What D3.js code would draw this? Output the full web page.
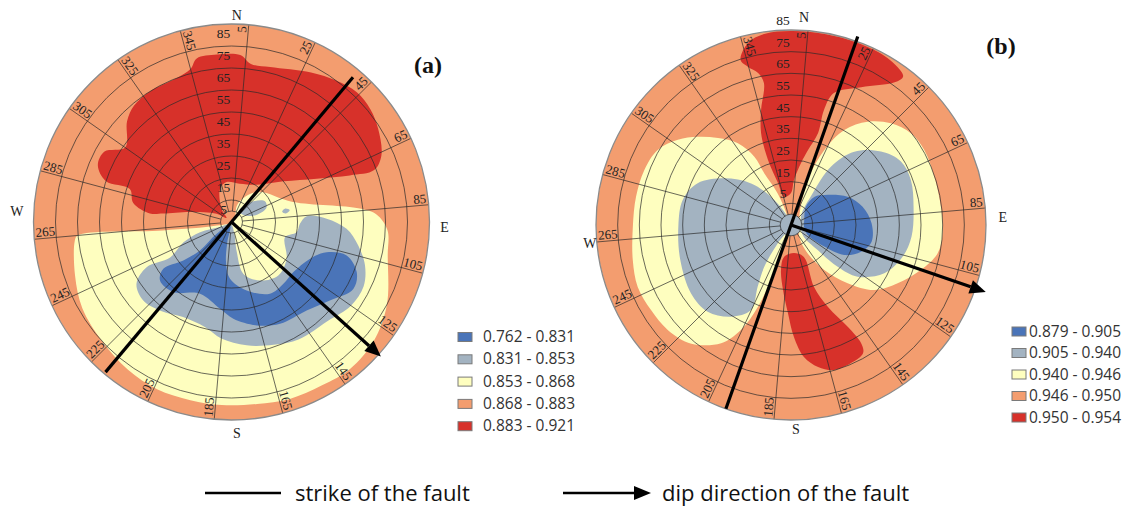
<!DOCTYPE html>
<html>
<head>
<meta charset="utf-8">
<script src="https://cdn.jsdelivr.net/npm/d3@7"></script>
<style>
  body { margin: 0; background: #fff; }
  svg { display: block; }
</style>
</head>
<body>
<svg id="chart" width="1137" height="513"></svg>
<script>
// ---- grid / tick labels ----
const ringDips = [10, 20, 30, 40, 50, 60, 70, 80];
const spokeAz = [5, 25, 45, 65, 85, 105, 125, 145, 165, 185, 205, 225, 245, 265, 285, 305, 325, 345];
const dipLabels = [5, 15, 25, 35, 45, 55, 65, 75, 85];
const cardinals = ['N', 'E', 'S', 'W'];

// ---- classes (legend) ----
const classColors = ['#4a74b8', '#a3b3c1', '#fefebf', '#f39d6f', '#d7312a'];
const legendA = ['0.762 - 0.831', '0.831 - 0.853', '0.853 - 0.868', '0.868 - 0.883', '0.883 - 0.921'];
const legendB = ['0.879 - 0.905', '0.905 - 0.940', '0.940 - 0.946', '0.946 - 0.950', '0.950 - 0.954'];

// ---- fault (degrees azimuth) ----
const faultStrike = [40, 19.5];
const dipDirection = [132, 109];

// ---- contour boundaries, [azimuth, dip] ----
// plot (a)
const yellowA = [[60, 1], [19, 8.7], [40, 17.8], [72, 29.3], [84, 58.6], [87, 66], [93, 71], [102, 72.6],
  [118, 80], [130, 84.3], [141, 85.8], [151, 84.9], [162, 84.7], [172, 83.5], [183, 83.3], [193, 83.1],
  [204, 83.2], [215, 82], [227, 80], [240, 78.3], [251, 75.2], [263, 71.8], [265, 70.2], [263, 31.4], [256, 6.8]];
const grayA = [[246, 5.7], [252, 15], [247, 23.7], [240, 32.2], [242, 43.7], [237, 51.5], [228.5, 53.7],
  [218, 51.5], [207, 48.5], [194, 49.3], [185, 53.2], [173, 56.5], [161, 59], [150, 61.5], [136, 62.7],
  [125, 66.3], [116, 66.8], [108, 63.8], [100.5, 58.6], [93.4, 52.4], [88, 43.3], [85.6, 34.3], [91.5, 31.1],
  [99, 30], [106, 25.3], [123.7, 30.1], [138.8, 32.3], [154, 29.6], [167, 24.2], [170, 13.9], [166, 4.8], [200, 1]];
const grayTailA = [[33, 6], [45, 12.9], [58, 17.9], [68, 17.1], [74, 10.3], [55, 6]];
const grayDotA = [[76, 25], [78.5, 27], [81, 25], [78.5, 23.5]];
const blueA = [[203, 1.7], [191.7, 9.4], [187.8, 18.4], [181.5, 25.8], [167.5, 31.9], [151.8, 37], [140, 36.7],
  [129, 36.2], [115, 39.4], [107.6, 45.4], [106.2, 54.5], [111.8, 61.3], [118.8, 63.2], [128.6, 57.2],
  [139.7, 52.8], [154.5, 51.3], [166.3, 48.4], [178.9, 44], [187.5, 39.8], [203.7, 35.6], [219.7, 41.4],
  [230.7, 42], [235.5, 37.6], [231.4, 28], [228, 19.3], [231.4, 8.6]];
const redA = [[276, 37.3], [281, 45.5], [288, 48.6], [288, 60], [293, 66], [299, 66], [305, 59], [314, 66],
  [320, 69], [328, 70], [339, 70], [345, 72], [348, 76], [355, 76.4], [3, 76], [7, 72.4], [14, 72.6], [28, 77],
  [36.5, 80], [44, 82], [51, 81.3], [57.5, 79], [66, 74.6], [70, 69], [68.5, 57.8], [63, 43.4], [52, 30],
  [34, 20.4], [12, 17.8], [353, 18.3], [341, 16], [323, 7.6], [309, 2.9], [299, 7.8], [283.5, 19.5], [277, 31.3]];

// plot (b)
const yellowWestB = [[335, 3], [337, 15.9], [332.7, 26.8], [331.8, 35.8], [327, 45], [320, 52.4], [313.4, 59.3],
  [307, 65.4], [299.4, 70.6], [290.6, 72.3], [280.4, 72.7], [269.4, 73], [257.5, 74.8], [248, 76.3],
  [238.7, 75.6], [229.6, 74.7], [220, 71.5], [210.6, 63.4], [205.5, 53.7], [202, 40.7], [200, 27],
  [198.4, 12.2], [191, 3.9]];
const yellowEastB = [[45, 5.4], [20.3, 22.1], [24, 37.9], [29.3, 50.3], [36.6, 59.4], [44.5, 65.8], [52.6, 69.7],
  [60.6, 70.6], [71.4, 69.8], [83, 69.7], [93, 70.1], [101, 68.9], [109, 63.5], [118.7, 56.1], [128, 48.8],
  [135.8, 37.5], [143.5, 25.8], [149.5, 15.2], [144.5, 6.6]];
const grayWestB = [[333, 2], [326.3, 13.9], [316.2, 26.6], [305, 37.6], [294.1, 47.2], [283, 51.3], [269.2, 52],
  [252.4, 53.6], [235.6, 55.9], [223.9, 55.5], [213.2, 50.6], [205.2, 43.4], [208.4, 32.3], [212.6, 22.8],
  [216, 10.5], [213.7, 2.8]];
const grayEastB = [[50, 6], [34.4, 17.7], [34.4, 32.6], [40.8, 44.7], [50.8, 53.6], [60, 58.6], [69.4, 59.1],
  [81.5, 57.2], [95.5, 55.9], [105.8, 53.6], [117.4, 48.5], [127.8, 38.9], [131.8, 28.9], [133.2, 16.9], [130.6, 7.1]];
const grayCoreB = 5;
const blueB = [[70, 6.5], [39, 10.9], [40, 17], [48, 20.7], [63.4, 29.2], [75.7, 34.1], [88.8, 37.2], [101.7, 38],
  [110.9, 34.6], [119.4, 28.2], [123, 18.3], [121, 9], [95, 6]];
const redNorthB = [[343, 79.6], [346.7, 86.3], [352, 89], [0, 89.5], [10, 89.5], [20, 89.5], [30, 89], [37, 86],
  [36, 81.4], [27, 71.4], [18, 64], [16, 55.2], [16.4, 44.3], [12.8, 35.5], [9.2, 29], [3.8, 20.8], [0, 14.8],
  [346, 13.3], [342.8, 20.3], [340.5, 31.8], [342, 44.7], [345.4, 54.8], [349.2, 66.7], [347.8, 71.8], [344.8, 75.6]];
const redSouthB = [[174, 13], [158, 15.9], [159.6, 30.5], [155.7, 41.5], [150.8, 53.9], [149.3, 63.3],
  [150.6, 67.8], [156.5, 69.5], [163.5, 69.8], [169.2, 66.7], [174.4, 61.2], [178.5, 51.7], [182, 40.6],
  [187, 30.2], [192.5, 21.3], [192.3, 15.1]];

const svg = d3.select('#chart');
const rad = d => d * Math.PI / 180;

function drawPlot(cfg) {
  const g = svg.append('g').attr('transform', `translate(${cfg.cx},${cfg.cy})`);
  const r = d3.scaleLinear().domain([0, 90]).range([0, cfg.R]);
  const pos = (az, rr) => [rr * Math.sin(rad(az)), -rr * Math.cos(rad(az))];

  const shape = d3.lineRadial()
    .angle(d => rad(d[0]))
    .radius(d => r(d[1]))
    .curve(d3.curveCatmullRomClosed.alpha(0.5));

  g.append('clipPath').attr('id', 'clip-' + cfg.id)
    .append('circle').attr('r', cfg.R);

  const fills = g.append('g').attr('clip-path', `url(#clip-${cfg.id})`);
  fills.append('circle').attr('r', cfg.R).attr('fill', classColors[3]);
  cfg.layers.forEach(l => {
    if (typeof l.pts === 'number') {
      fills.append('circle').attr('r', r(l.pts)).attr('fill', classColors[l.cls]);
    } else {
      fills.append('path').attr('d', shape(l.pts)).attr('fill', classColors[l.cls]);
    }
  });

  // grid
  const grid = g.append('g').attr('fill', 'none').attr('stroke', '#2a2a2a').attr('stroke-width', 0.7);
  grid.selectAll('circle.ring').data(ringDips).enter().append('circle')
    .attr('class', 'ring').attr('r', d => r(d));
  grid.append('circle').attr('r', r(5));
  grid.selectAll('line').data(spokeAz).enter().append('line')
    .attr('x1', d => pos(d, r(5))[0]).attr('y1', d => pos(d, r(5))[1])
    .attr('x2', d => pos(d, r(90))[0]).attr('y2', d => pos(d, r(90))[1]);
  g.append('circle').attr('r', cfg.R).attr('fill', 'none').attr('stroke', '#8a8a8a').attr('stroke-width', 1.3);

  // dip labels along north
  g.selectAll('text.dip').data(dipLabels).enter().append('text')
    .attr('class', 'dip')
    .attr('x', -8)
    .attr('y', d => -r(d + cfg.dipShift))
    .attr('dy', '0.35em')
    .attr('text-anchor', 'middle')
    .attr('font-family', 'Liberation Serif, serif')
    .attr('font-size', 13.5)
    .attr('fill', '#222')
    .text(d => d);

  // azimuth labels
  g.selectAll('text.az').data(spokeAz).enter().append('text')
    .attr('class', 'az')
    .attr('transform', d => {
      const p = pos(d, cfg.R - 2);
      const rot = d < 180 ? d - 90 : d - 270;
      return `translate(${p[0]},${p[1]}) rotate(${rot})`;
    })
    .attr('dy', -2)
    .attr('text-anchor', d => d < 180 ? 'end' : 'start')
    .attr('font-family', 'Liberation Serif, serif')
    .attr('font-size', 13)
    .attr('fill', '#222')
    .text(d => d);

  // cardinal letters
  g.selectAll('text.card').data(cardinals).enter().append('text')
    .attr('class', 'card')
    .attr('x', (d, i) => pos(cfg.card[i][0], cfg.card[i][1])[0])
    .attr('y', (d, i) => pos(cfg.card[i][0], cfg.card[i][1])[1])
    .attr('dy', '0.35em')
    .attr('text-anchor', 'middle')
    .attr('font-family', 'Liberation Serif, serif')
    .attr('font-size', 14)
    .attr('fill', '#222')
    .text(d => d);

  // fault strike and dip direction
  const s = faultStrike[cfg.idx];
  const p1 = pos(s, cfg.strikeLen[0]);
  const p2 = pos(s + 180, cfg.strikeLen[1]);
  g.append('line').attr('x1', p1[0]).attr('y1', p1[1]).attr('x2', p2[0]).attr('y2', p2[1])
    .attr('stroke', '#000').attr('stroke-width', 3.2);
  const dd = dipDirection[cfg.idx];
  const tip = pos(dd, cfg.arrowLen);
  const base = pos(dd, cfg.arrowLen - 16);
  const nrm = [Math.cos(rad(dd)), Math.sin(rad(dd))];
  g.append('line').attr('x1', 0).attr('y1', 0).attr('x2', base[0]).attr('y2', base[1])
    .attr('stroke', '#000').attr('stroke-width', 3.2);
  g.append('path')
    .attr('d', `M${tip[0]},${tip[1]}L${base[0] + 7 * nrm[0]},${base[1] + 7 * nrm[1]}L${base[0] - 7 * nrm[0]},${base[1] - 7 * nrm[1]}Z`)
    .attr('fill', '#000');

  // title
  svg.append('text').attr('x', cfg.title[0]).attr('y', cfg.title[1])
    .attr('font-family', 'Liberation Serif, serif').attr('font-weight', 'bold')
    .attr('font-size', 24).attr('text-anchor', 'middle').attr('fill', '#111')
    .text(cfg.label);

  // legend
  const lg = svg.append('g').attr('transform', `translate(${cfg.legend[0]},${cfg.legend[1]})`);
  const rows = lg.selectAll('g').data(cfg.legendText).enter().append('g')
    .attr('transform', (d, i) => `translate(0,${i * cfg.legend[2]})`);
  rows.append('rect').attr('x', 0).attr('y', -4).attr('width', 14).attr('height', 9)
    .attr('fill', (d, i) => classColors[i]).attr('stroke', '#7a7a7a').attr('stroke-width', 1);
  rows.append('text').attr('x', cfg.legend[3]).attr('dy', '0.36em')
    .attr('font-family', 'Open Sans, sans-serif').attr('font-size', 15.5).attr('fill', '#333')
    .text(d => d);
}

drawPlot({
  id: 'a', idx: 0, label: '(a)', cx: 231.5, cy: 222, R: 198, dipShift: 1,
  card: [[1.5, 207], [91.5, 213], [178.5, 211], [273, 215]],
  strikeLen: [189, 196], arrowLen: 201,
  title: [428, 73],
  legend: [458, 336.5, 22.3, 25], legendText: legendA,
  layers: [
    { pts: yellowA, cls: 2 }, { pts: grayA, cls: 1 }, { pts: grayTailA, cls: 1 }, { pts: grayDotA, cls: 1 },
    { pts: blueA, cls: 0 }, { pts: redA, cls: 4 }
  ]
});

drawPlot({
  id: 'b', idx: 1, label: '(b)', cx: 791, cy: 225, R: 195, dipShift: 9.5,
  card: [[3.6, 208], [87.8, 212], [178.6, 204], [265, 202]],
  strikeLen: [200, 195], arrowLen: 206,
  title: [1001, 54],
  legend: [1012, 331, 21.5, 17], legendText: legendB,
  layers: [
    { pts: yellowWestB, cls: 2 }, { pts: yellowEastB, cls: 2 }, { pts: grayWestB, cls: 1 },
    { pts: grayEastB, cls: 1 }, { pts: grayCoreB, cls: 1 }, { pts: blueB, cls: 0 },
    { pts: redNorthB, cls: 4 }, { pts: redSouthB, cls: 4 }
  ]
});

// bottom key
const key = svg.append('g');
key.append('line').attr('x1', 205).attr('y1', 493).attr('x2', 281).attr('y2', 493)
  .attr('stroke', '#000').attr('stroke-width', 2.5);
key.append('text').attr('x', 295).attr('y', 501)
  .attr('font-family', 'Open Sans, sans-serif').attr('font-size', 22).attr('fill', '#111')
  .text('strike of the fault');
key.append('line').attr('x1', 563).attr('y1', 493).attr('x2', 636).attr('y2', 493)
  .attr('stroke', '#000').attr('stroke-width', 2.5);
key.append('path').attr('d', 'M651,493L634,486L634,500Z').attr('fill', '#000');
key.append('text').attr('x', 662).attr('y', 501)
  .attr('font-family', 'Open Sans, sans-serif').attr('font-size', 22).attr('fill', '#111')
  .text('dip direction of the fault');
</script>
</body>
</html>
